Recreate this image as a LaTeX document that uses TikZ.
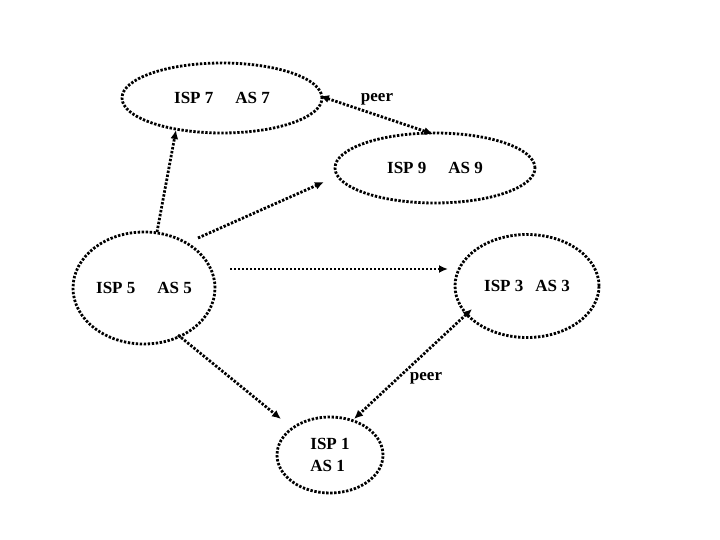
\documentclass[tikz,border=0pt]{standalone}
\usepackage{fontspec}
\setmainfont{Liberation Serif}
\usetikzlibrary{shapes.geometric,arrows.meta}
\begin{document}
\begin{tikzpicture}[x=1pt,y=-1pt,
  dotline/.style={line width=2.8pt,dash pattern=on 2.4pt off 1.6pt},
  as/.style={draw,ellipse,dotline,inner sep=0pt,font=\bfseries\fontsize{17}{22}\selectfont},
  link/.style={dotline,-{Latex[length=9pt,width=8pt]}},
  link2/.style={dotline,{Latex[length=9pt,width=8pt]}-{Latex[length=9pt,width=8pt]}},
  lbl/.style={font=\bfseries\fontsize{17}{20}\selectfont,inner sep=0pt}]
\useasboundingbox (0,0) rectangle (720,540);
\node[as,minimum width=200pt,minimum height=70pt] (isp7) at (222,98) {ISP 7\hspace{22pt}AS 7};
\node[as,minimum width=200pt,minimum height=70pt] (isp9) at (435,168) {ISP 9\hspace{22pt}AS 9};
\node[as,minimum width=142pt,minimum height=112pt] (isp5) at (144,288) {ISP 5\hspace{22pt}AS 5};
\node[as,minimum width=144pt,minimum height=103pt] (isp3) at (527,286) {ISP 3\hspace{12pt}AS 3};
\node[as,minimum width=106pt,minimum height=76pt,align=left] (isp1) at (330,455) {ISP 1\\AS 1};
% endpoints
\coordinate (a1) at (157,232); \coordinate (b1) at (176,130);
\coordinate (a2) at (198,238); \coordinate (b2) at (324,182);
\coordinate (a3) at (230,269); \coordinate (b3) at (448,269);
\coordinate (a4) at (178,335); \coordinate (b4) at (281,419);
\coordinate (a5) at (320,96);  \coordinate (b5) at (433,134);
\coordinate (a6) at (472,309); \coordinate (b6) at (354,419);
\draw[link] (a1) -- (b1);
\draw[link] (a2) -- (b2);
\draw[link] (a3) -- (b3);
\draw[link] (a4) -- (b4);
\draw[link2] (a5) -- (b5);
\draw[link2] (a6) -- (b6);
\node[lbl] (peer1) at (377,99) {peer};
\node[lbl] (peer2) at (426,378) {peer};
\end{tikzpicture}
\end{document}
